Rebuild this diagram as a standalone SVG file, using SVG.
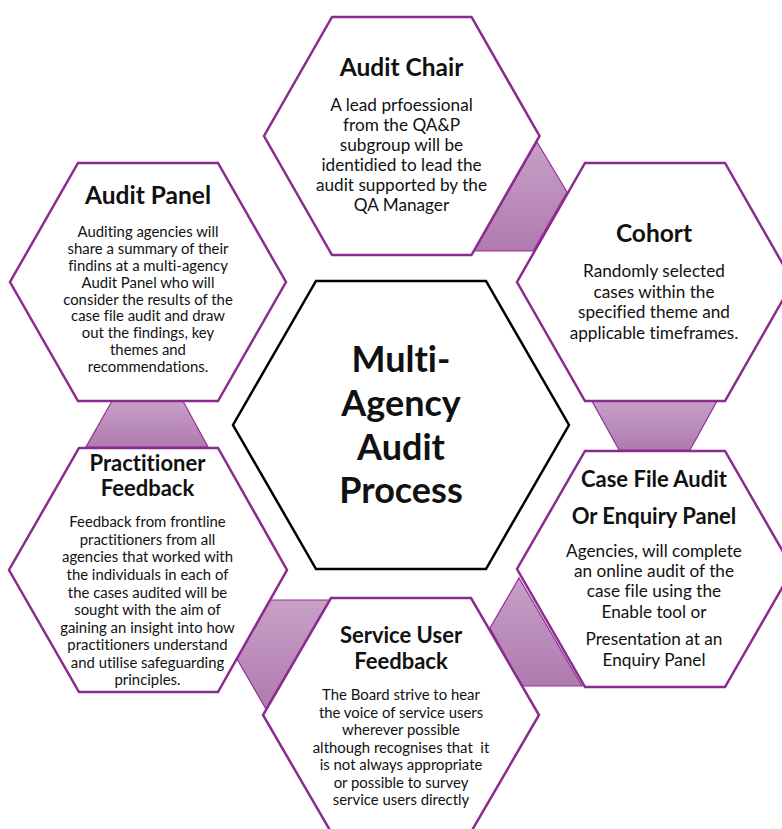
<svg xmlns="http://www.w3.org/2000/svg" width="782" height="829" viewBox="0 0 782 829">
<defs>
<linearGradient id="g" x1="0" y1="0" x2="0" y2="1">
<stop offset="0" stop-color="#c7a0c7"/>
<stop offset="1" stop-color="#b07aaf"/>
</linearGradient>
<style>
.hex{fill:#fff;stroke:#8b2a8f;stroke-width:2.5;stroke-linejoin:miter}
.ctr{fill:#fff;stroke:#000;stroke-width:2.5}
.con{fill:url(#g);stroke:#952f98;stroke-width:1.2}
text{font-family:Lato,"Liberation Sans",sans-serif;fill:#111;text-anchor:middle;font-variant-ligatures:none}
.t{font-weight:bold;font-size:22px}
.tl{font-weight:bold;font-size:24.5px}
.b{font-size:17.2px}
.s{font-size:14.9px}
.big{font-weight:bold;font-size:36px}
</style>
</defs>
<rect width="782" height="829" fill="#fff"/>
<g id="connectors">
<polygon class="con" points="537,142 567,192 533,251 473,251"/>
<polygon class="con" points="112,401 183,401 208,447 86,447"/>
<polygon class="con" points="592,401 717,401 690,450 619,450"/>
<polygon class="con" points="268,600 331,600 266,709 237,659"/>
<polygon class="con" points="519,578 490,628 522,686 582,686"/>
</g>
<g id="audit-chair">
<polygon class="hex" points="332,17 471.5,17 539.5,136 471.5,255 332,255 264,136"/>
<text class="tl" x="401.5" y="76">Audit Chair</text>
<text class="b" x="401.5" y="111">A lead prfoessional</text>
<text class="b" x="401.5" y="131">from the QA&amp;P</text>
<text class="b" x="401.5" y="151">subgroup will be</text>
<text class="b" x="401.5" y="171">identidied to lead the</text>
<text class="b" x="401.5" y="191">audit supported by the</text>
<text class="b" x="401.5" y="211">QA Manager</text>
</g>
<g id="audit-panel">
<polygon class="hex" points="78,163 218,163 286,282 218,401 78,401 10,282"/>
<text class="tl" x="148" y="204">Audit Panel</text>
<text class="s" x="148" y="237">Auditing agencies will</text>
<text class="s" x="148" y="254">share a summary of their</text>
<text class="s" x="148" y="271">findins at a multi-agency</text>
<text class="s" x="148" y="288">Audit Panel who will</text>
<text class="s" x="148" y="304.5">consider the results of the</text>
<text class="s" x="148" y="321">case file audit and draw</text>
<text class="s" x="148" y="338">out the findings, key</text>
<text class="s" x="148" y="355">themes and</text>
<text class="s" x="148" y="371.5">recommendations.</text>
</g>
<g id="cohort">
<polygon class="hex" points="585,163 725,163 793,282 725,401 585,401 517,282"/>
<text class="tl" x="654" y="242">Cohort</text>
<text class="b" x="654" y="277">Randomly selected</text>
<text class="b" x="654" y="297.5">cases within the</text>
<text class="b" x="654" y="318">specified theme and</text>
<text class="b" x="654" y="338.5">applicable timeframes.</text>
</g>
<g id="case-file-audit">
<polygon class="hex" points="585,451 725,451 793,569 725,687 585,687 517,569"/>
<text class="t" x="654" y="487">Case File Audit</text>
<text class="t" x="654" y="524">Or Enquiry Panel</text>
<text class="b" x="654" y="557">Agencies, will complete</text>
<text class="b" x="654" y="577">an online audit of the</text>
<text class="b" x="654" y="597">case file using the</text>
<text class="b" x="654" y="617.5">Enable tool or</text>
<text class="b" x="654" y="645">Presentation at an</text>
<text class="b" x="654" y="666">Enquiry Panel</text>
</g>
<g id="practitioner-feedback">
<polygon class="hex" points="79,448 218,448 287,570 218,692 79,692 9,570"/>
<text class="t" x="147.5" y="471">Practitioner</text>
<text class="t" x="147.5" y="496">Feedback</text>
<text class="s" x="147.5" y="527">Feedback from frontline</text>
<text class="s" x="147.5" y="544.5">practitioners from all</text>
<text class="s" x="147.5" y="562">agencies that worked with</text>
<text class="s" x="147.5" y="580">the individuals in each of</text>
<text class="s" x="147.5" y="597.5">the cases audited will be</text>
<text class="s" x="147.5" y="615">sought with the aim of</text>
<text class="s" x="147.5" y="632.5">gaining an insight into how</text>
<text class="s" x="147.5" y="650">practitioners understand</text>
<text class="s" x="147.5" y="667.5">and utilise safeguarding</text>
<text class="s" x="147.5" y="685">principles.</text>
</g>
<g id="service-user-feedback">
<polygon class="hex" points="331,598 471,598 539,715 471,832 331,832 263,715"/>
<text class="t" x="401" y="643">Service User</text>
<text class="t" x="401" y="669">Feedback</text>
<text class="s" x="401" y="700">The Board strive to hear</text>
<text class="s" x="401" y="717.5">the voice of service users</text>
<text class="s" x="401" y="735">wherever possible</text>
<text class="s" x="401" y="752.5" xml:space="preserve">although recognises that  it</text>
<text class="s" x="401" y="770">is not always appropriate</text>
<text class="s" x="401" y="787.5">or possible to survey</text>
<text class="s" x="401" y="805">service users directly</text>
</g>
<g id="multi-agency-audit-process">
<polygon class="ctr" points="316,281 486,281 569,425 486,569 316,569 233,425"/>
<text class="big" x="401" y="372">Multi-</text>
<text class="big" x="401" y="416">Agency</text>
<text class="big" x="401" y="460">Audit</text>
<text class="big" x="401" y="503">Process</text>
</g>
</svg>
